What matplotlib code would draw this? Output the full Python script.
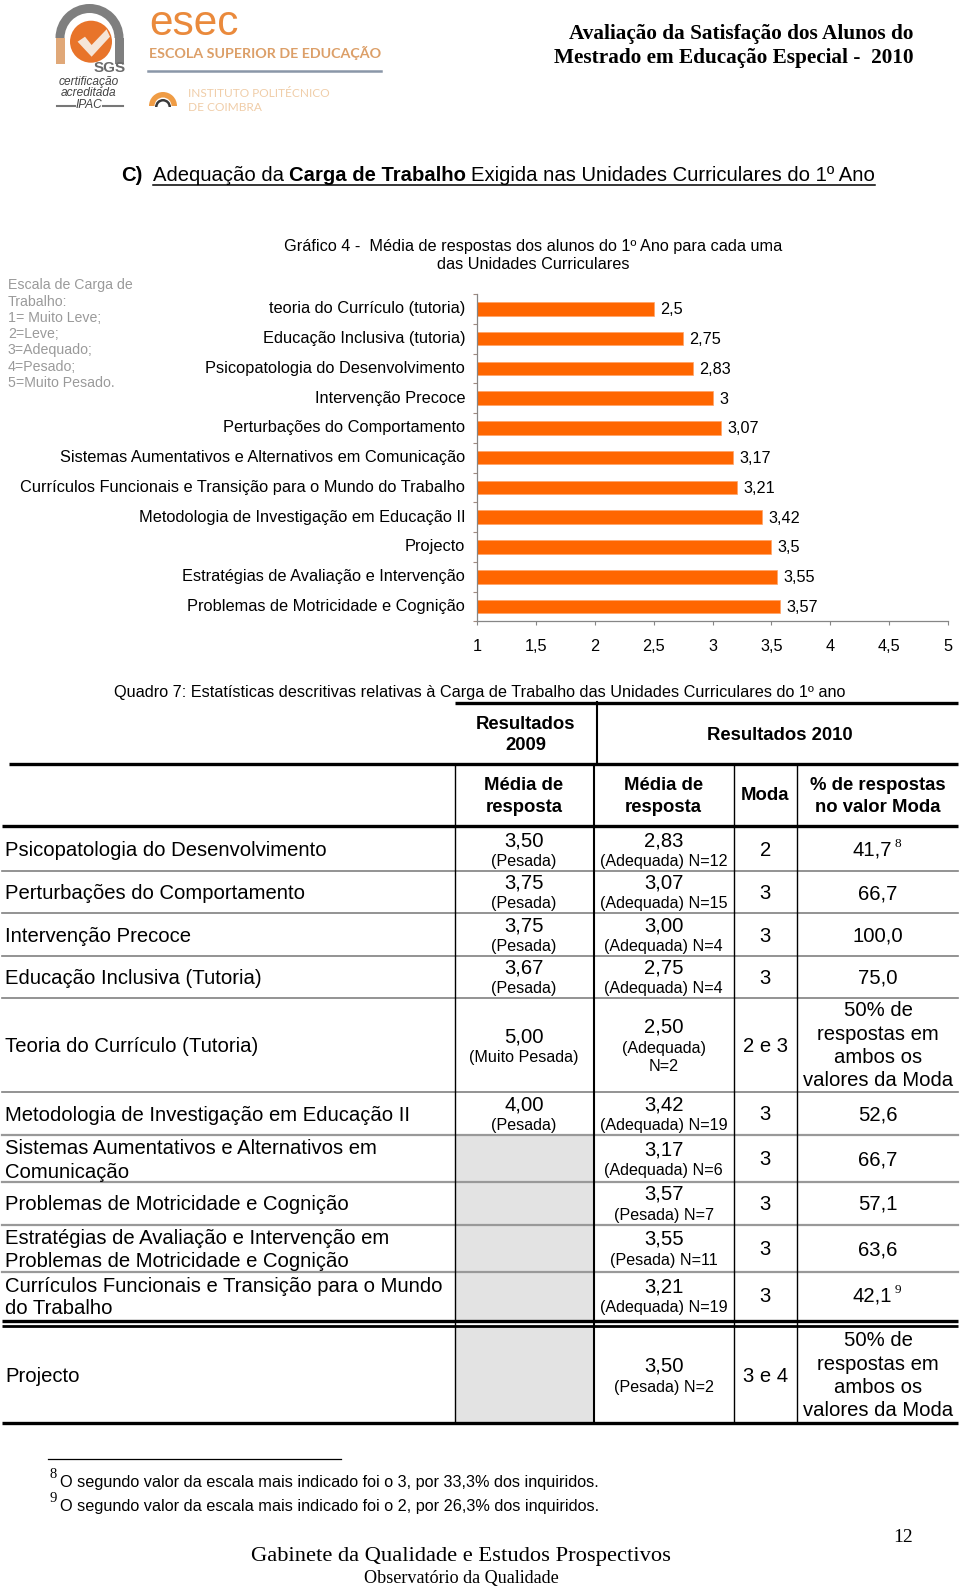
import matplotlib
matplotlib.use("Agg")
import matplotlib.pyplot as plt
from matplotlib.patches import Circle, Wedge, Rectangle, Polygon

# ---------- data ----------
categories = ["teoria do Currículo (tutoria)", "Educação Inclusiva (tutoria)",
              "Psicopatologia do Desenvolvimento", "Intervenção Precoce",
              "Perturbações do Comportamento",
              "Sistemas Aumentativos e Alternativos em Comunicação",
              "Currículos Funcionais e Transição para o Mundo do Trabalho",
              "Metodologia de Investigação em Educação II", "Projecto",
              "Estratégias de Avaliação e Intervenção",
              "Problemas de Motricidade e Cognição"]
values = [2.5, 2.75, 2.83, 3, 3.07, 3.17, 3.21, 3.42, 3.5, 3.55, 3.57]
x_ticks = [1, 1.5, 2, 2.5, 3, 3.5, 4, 4.5, 5]

row_labels = [["Psicopatologia do Desenvolvimento"], ["Perturbações do Comportamento"],
              ["Intervenção Precoce"], ["Educação Inclusiva (Tutoria)"],
              ["Teoria do Currículo (Tutoria)"], ["Metodologia de Investigação em Educação II"],
              ["Sistemas Aumentativos e Alternativos em", "Comunicação"],
              ["Problemas de Motricidade e Cognição"],
              ["Estratégias de Avaliação e Intervenção em", "Problemas de Motricidade e Cognição"],
              ["Currículos Funcionais e Transição para o Mundo", "do Trabalho"],
              ["Projecto"]]
mean_2009 = ["3,50", "3,75", "3,75", "3,67", "5,00", "4,00", None, None, None, None, None]
class_2009 = ["(Pesada)", "(Pesada)", "(Pesada)", "(Pesada)", "(Muito Pesada)", "(Pesada)",
              None, None, None, None, None]
mean_2010 = ["2,83", "3,07", "3,00", "2,75", "2,50", "3,42", "3,17", "3,57", "3,55", "3,21", "3,50"]
class_2010 = ["(Adequada) N=12", "(Adequada) N=15", "(Adequada) N=4", "(Adequada) N=4",
              "(Adequada)\nN=2", "(Adequada) N=19", "(Adequada) N=6", "(Pesada) N=7",
              "(Pesada) N=11", "(Adequada) N=19", "(Pesada) N=2"]
moda = ["2", "3", "3", "3", "2 e 3", "3", "3", "3", "3", "3", "3 e 4"]
pct = ["41,7", "66,7", "100,0", "75,0", "50% de\nrespostas em\nambos os\nvalores da Moda", "52,6",
       "66,7", "57,1", "63,6", "42,1", "50% de\nrespostas em\nambos os\nvalores da Moda"]
scale_lines = ["Escala de Carga de", "Trabalho:", "1= Muito Leve;", "2=Leve;", "3=Adequado;",
               "4=Pesado;", "5=Muito Pesado."]
footnotes = [("8", "O segundo valor da escala mais indicado foi o 3, por 33,3% dos inquiridos."),
             ("9", "O segundo valor da escala mais indicado foi o 2, por 26,3% dos inquiridos.")]

# ---------- layout (pixels) ----------
W, H = 960, 1588
SANS, SERIF = "Liberation Sans", "Liberation Serif"
ORANGE = "#ff6600"
fig = plt.figure(figsize=(W / 100, H / 100), dpi=100, facecolor="white")
pg = fig.add_axes([0, 0, 1, 1])
pg.set_xlim(0, W)
pg.set_ylim(H, 0)
pg.axis("off")


def T(x, y, s, size, ha="center", fam=SANS, **kw):
    return pg.text(x, y + 1, s, fontsize=size, ha=ha, va="center", family=fam, color=kw.pop("color", "black"), **kw)


# ---------- logos ----------
pg.add_patch(Wedge((89.5, 38), 34, 180, 360, width=9, color="#7f7f7f", lw=0))
pg.add_patch(Rectangle((55.5, 38), 9, 26, color="#e0a878", lw=0))
pg.add_patch(Rectangle((114.5, 38), 9, 26, color="#7f7f7f", lw=0))
pg.add_patch(Circle((91, 41.7), 21, color="#e8742a", lw=0))
pg.add_patch(Polygon([(77.6, 41.7), (85, 36.7), (91.6, 45), (106.6, 29.3), (110, 36.7), (91.6, 56.7)],
                     color="#f5e5d8", lw=0))
T(110, 67, "SGS", 11, color="#6a6a6a", fontweight="bold")
T(89, 80.5, "certificação", 8.6, color="#444444", style="italic")
T(89, 92.5, "acreditada", 8.6, color="#444444", style="italic")
T(89, 104.5, "IPAC", 8.6, color="#444444", style="italic")
pg.plot([57, 75], [105.5, 105.5], color="#777777", lw=1.5)
pg.plot([103, 123], [105.5, 105.5], color="#777777", lw=1.5)
T(149, 23, "esec", 30.5, ha="left", color="#ea8a3c")
T(149, 51.7, "ESCOLA SUPERIOR DE EDUCAÇÃO", 10.3, ha="left", fam="Lato", color="#dc9f68", fontweight="bold")
pg.plot([148, 381], [70.7, 70.7], color="#8a97a8", lw=1.8)
pg.add_patch(Wedge((163, 106), 14, 180, 360, width=5.5, color="#ef9c45", lw=0))
pg.add_patch(Wedge((163, 107), 8, 180, 360, width=2.5, color="#3a3a3a", lw=0))
T(188, 92.5, "INSTITUTO POLITÉCNICO", 8.6, ha="left", fam="Lato", color="#f0cda8")
T(188, 106.5, "DE COIMBRA", 8.6, ha="left", fam="Lato", color="#f0cda8")

# ---------- header ----------
T(913, 33, "Avaliação da Satisfação dos Alunos do", 15.3, ha="right", fam=SERIF, fontweight="bold")
T(913, 57.5, "Mestrado em Educação Especial -  2010", 15.3, ha="right", fam=SERIF, fontweight="bold")

# heading with mixed weights
T(121, 174.5, "C)", 14.6, ha="left", fontweight="bold")
r = fig.canvas.get_renderer()
xc = 153
for s, w in [("Adequação da", "normal"), ("Carga de Trabalho", "bold"),
             ("Exigida nas Unidades Curriculares do 1º Ano", "normal")]:
    t = T(xc, 174.5, s, 14.6, ha="left", fontweight=w)
    end = t.get_window_extent(r).x1
    xc = end + 5.2
pg.plot([153, end], [185, 185], color="black", lw=1.1)

# ---------- scale note ----------
for ln, yy in zip(scale_lines, [284, 301, 317, 333, 349, 366, 382]):
    T(8, yy, ln, 10.2, ha="left", color="#9a9a9a")

# ---------- chart ----------
T(533, 245, "Gráfico 4 -  Média de respostas dos alunos do 1º Ano para cada uma", 11.7)
T(533, 263.5, "das Unidades Curriculares", 11.7)
L, R, TOP, BOT = 477.3, 948, 294, 621.3
ax = fig.add_axes([L / W, 1 - BOT / H, (R - L) / W, (BOT - TOP) / H], facecolor="none")
pos = list(range(len(categories)))
ax.barh(pos, [v - 1 for v in values], left=1, height=0.46, color=ORANGE, edgecolor="#ffa366", linewidth=0.5)
ax.set_xlim(1, 5)
ax.set_ylim(len(categories) - 0.5, -0.5)
ax.set_xticks(x_ticks)
ax.set_xticklabels([str(v).replace(".", ",") for v in x_ticks], fontsize=11.7, family=SANS)
ax.set_yticks(pos)
ax.set_yticklabels(categories, fontsize=11.8, family=SANS, va="center")
ax.set_yticks([p - 0.5 for p in pos] + [len(pos) - 0.5], minor=True)
ax.tick_params(axis="y", which="major", length=0, pad=8.8)
ax.tick_params(axis="y", which="minor", length=3, color="#a08a80", width=0.8)
ax.tick_params(axis="x", length=3, color="#868686", width=0.8, pad=9.5)
for s in ("top", "right"):
    ax.spines[s].set_visible(False)
for s in ("left", "bottom"):
    ax.spines[s].set_color("#868686")
    ax.spines[s].set_linewidth(0.9)
for p, v in zip(pos, values):
    ax.annotate(str(v).replace(".", ","), (v, p), xytext=(4.6, -0.7), textcoords="offset points",
                va="center", ha="left", fontsize=11.7, family=SANS)

# ---------- table ----------
T(480, 691.7, "Quadro 7: Estatísticas descritivas relativas à Carga de Trabalho das Unidades Curriculares do 1º ano", 11.7)
C1, C2, C3, C4 = 524, 663.6, 765.3, 878
V = [454.7, 594.4, 733.5, 797.2]
pg.add_patch(Rectangle((V[0], 1134.7), V[1] - V[0], 186, color="#e3e3e3", lw=0))
pg.add_patch(Rectangle((V[0], 1326), V[1] - V[0], 97, color="#e3e3e3", lw=0))
for yy in (870.7, 913, 955.7, 998.3, 1092.3):
    pg.plot([2, 958], [yy, yy], color="#808080", lw=1.2)
for yy in (1134.7, 1182, 1224.7, 1271.7):
    pg.plot([2, 958], [yy, yy], color="#999999", lw=1.6)
for x0, yy, lw in [(455, 702.7, 2.4), (8.6, 764, 2.4), (2, 825.7, 2.4), (2, 1320.7, 2.4), (2, 1326, 2.0), (2, 1423.3, 2.4)]:
    pg.plot([x0, 958], [yy, yy], color="black", lw=lw, solid_capstyle="butt")
pg.plot([597.4, 597.4], [702, 763], color="black", lw=1.5)
for xx, lw in zip(V, (1.0, 1.5, 1.0, 1.0)):
    pg.plot([xx, xx], [765, 1423], color="black", lw=lw, solid_capstyle="butt")

BOLD = dict(fontweight="bold")
T(525.7, 723.3, "Resultados", 13.3, **BOLD)
T(525.7, 744, "2009", 13.3, **BOLD)
T(779.4, 734, "Resultados 2010", 13.3, **BOLD)
for cx in (C1, C2):
    T(cx, 784.7, "Média de", 13.3, **BOLD)
    T(cx, 806, "resposta", 13.3, **BOLD)
T(C3, 795, "Moda", 13.3, **BOLD)
T(C4, 784.7, "% de respostas", 13.3, **BOLD)
T(C4, 806, "no valor Moda", 13.3, **BOLD)

label_y = [[849.3], [892.7], [935.3], [977.3], [1046], [1114.3], [1147.3, 1171], [1204],
           [1237.3, 1260.7], [1285, 1307.7], [1376]]
main_y = [839.7, 882.3, 925, 967.3, 1035.7, 1104, None, None, None, None, None]
small_y = [860.7, 902.3, 945.7, 988, 1056.7, 1124.7, None, None, None, None, None]
main2_y = [839.7, 882.3, 925, 967.3, 1026, 1104, 1149, 1193.3, 1238.3, 1285.7, 1365]
small2_y = [860.7, 902.3, 945.7, 988, 1047, 1124.7, 1169.7, 1214.7, 1259.7, 1306.7, 1386.3]
moda_y = [849.5, 892.5, 935, 977.5, 1045.5, 1114, 1158.5, 1203.5, 1248.5, 1295.5, 1375.5]
for i, lines in enumerate(row_labels):
    for ln, yy in zip(lines, label_y[i]):
        T(5, yy, ln, 14.6, ha="left")
    if mean_2009[i]:
        T(C1, main_y[i], mean_2009[i], 14.6)
        T(C1, small_y[i], class_2009[i], 11.6)
    T(C2, main2_y[i], mean_2010[i], 14.6)
    parts = class_2010[i].split("\n")
    T(C2, small2_y[i], parts[0], 11.6)
    if len(parts) > 1:
        T(C2, small2_y[i] + 18.7, parts[1], 11.6)
    T(C3, moda_y[i], moda[i], 14.6)
    if "\n" in pct[i]:
        top = 1010 if i == 4 else 1339.7
        for k, ln in enumerate(pct[i].split("\n")):
            T(C4, top + k * 23.3, ln, 14.6)
    else:
        cx = 872 if i in (0, 9) else C4
        T(cx, moda_y[i], pct[i], 14.6)
T(897.7, 842.7, "8", 9.5, fam=SERIF)
T(897.7, 1288.7, "9", 9.5, fam=SERIF)

# ---------- footnotes and footer ----------
pg.plot([48, 340.7], [1459.3, 1459.3], color="black", lw=0.9)
for (mark, txt), ys, yt in zip(footnotes, (1474, 1497.7), (1482, 1505.5)):
    T(49, ys, mark, 10.5, ha="left", fam=SERIF)
    T(60, yt, txt, 11.73, ha="left")
T(903.5, 1536, "12", 14, fam=SERIF)
T(461, 1555, "Gabinete da Qualidade e Estudos Prospectivos", 16.2, fam=SERIF)
T(461.5, 1577, "Observatório da Qualidade", 13.1, fam=SERIF)

fig.savefig("out.png", dpi=100, facecolor="white")
